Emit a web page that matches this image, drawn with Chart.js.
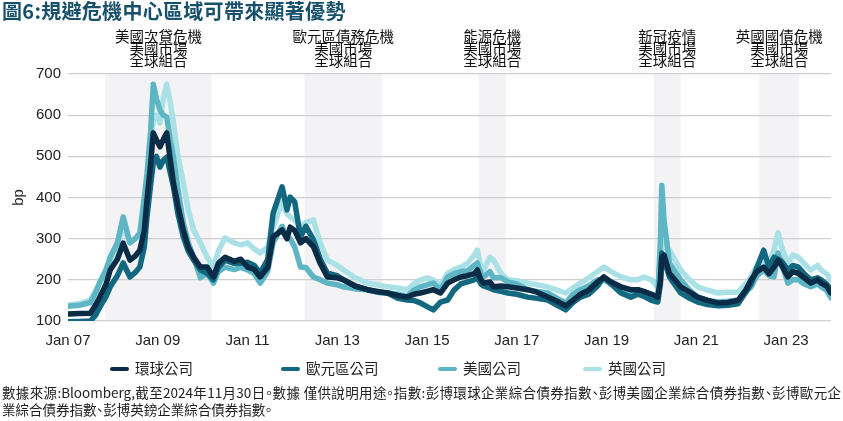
<!DOCTYPE html>
<html lang="zh-Hant">
<head>
<meta charset="utf-8">
<title>圖6:規避危機中心區域可帶來顯著優勢</title>
<script src="https://cdn.jsdelivr.net/npm/chart.js@4.4.1/dist/chart.umd.min.js"></script>
<style>
  html, body { margin: 0; padding: 0; background: #fff; }
  body { width: 843px; height: 421px; position: relative; overflow: hidden;
         font-family: 'Noto Sans CJK TC', sans-serif; color: #222; }
  #title { position: absolute; left: 2px; top: -2px; font-size: 20px; font-weight: 700;
           color: #17506b; letter-spacing: 0.3px; line-height: 26px; white-space: nowrap; }
  #wrap { position: absolute; left: 0; top: 0; width: 843px; height: 421px; }
  #legend { position: absolute; top: 358px; left: 0; width: 843px; height: 20px; }
  .item { position: absolute; top: 0; font-size: 14.5px; line-height: 20px; white-space: nowrap; }
  .item .sw { display: inline-block; width: 19px; height: 4px; border-radius: 2px;
              vertical-align: middle; margin-right: 6px; position: relative; top: -1px; }
  #note { position: absolute; left: 2px; top: 384px; width: 839px; font-size: 13.5px; line-height: 17px;
          font-feature-settings: "halt"; }
  #note .l1 { text-align: justify; text-align-last: justify; }
</style>
</head>
<body>
<div id="wrap"><canvas id="chart" width="843" height="421"></canvas></div>
<div id="title">圖6:規避危機中心區域可帶來顯著優勢</div>
<div id="legend"></div>
<div id="note">
  <div class="l1">數據來源:Bloomberg,截至2024年11月30日。數據 僅供說明用途。指數:彭博環球企業綜合債券指數、彭博美國企業綜合債券指數、彭博歐元企</div>
  <div>業綜合債券指數、彭博英鎊企業綜合債券指數。</div>
</div>
<script>
// spreads in bp (x = fractional year)
const dates = [
  2007.00, 2007.25, 2007.50, 2007.62, 2007.71, 2007.85, 2007.94, 2008.10, 2008.23, 2008.38,
  2008.50, 2008.60, 2008.70, 2008.76, 2008.84, 2008.90, 2008.97, 2009.05, 2009.12, 2009.20,
  2009.28, 2009.35, 2009.45, 2009.57, 2009.68, 2009.80, 2009.95, 2010.10, 2010.24, 2010.35,
  2010.50, 2010.70, 2010.85, 2011.00, 2011.15, 2011.28, 2011.45, 2011.57, 2011.77, 2011.88,
  2011.95, 2012.05, 2012.18, 2012.30, 2012.47, 2012.62, 2012.78, 2013.00, 2013.14, 2013.40,
  2013.67, 2013.90, 2014.12, 2014.35, 2014.56, 2014.70, 2014.85, 2015.00, 2015.14, 2015.30,
  2015.46, 2015.60, 2015.75, 2015.90, 2016.05, 2016.12, 2016.20, 2016.26, 2016.40, 2016.48,
  2016.65, 2016.80, 2017.00, 2017.24, 2017.45, 2017.69, 2017.90, 2018.09, 2018.25, 2018.42,
  2018.60, 2018.80, 2018.94, 2019.10, 2019.32, 2019.54, 2019.70, 2019.83, 2020.00, 2020.14,
  2020.20, 2020.23, 2020.28, 2020.40, 2020.65, 2020.85, 2021.03, 2021.25, 2021.48, 2021.70,
  2021.93, 2022.10, 2022.22, 2022.35, 2022.50, 2022.62, 2022.73, 2022.82, 2022.90, 2023.04,
  2023.15, 2023.27, 2023.40, 2023.55, 2023.70, 2023.78, 2023.90, 2024.00
];
const globalCorp = [
  117, 118, 119, 140, 158, 190, 224, 250, 289, 248,
  258, 272, 320, 394, 480, 557, 540, 523, 540, 557,
  490, 435, 380, 321, 280, 255, 231, 231, 207, 240,
  255, 245, 250, 231, 225, 207, 230, 304, 321, 300,
  328, 320, 290, 300, 280, 240, 207, 205, 200, 185,
  176, 172, 168, 162, 158, 165, 168, 172, 176, 168,
  192, 200, 207, 210, 215, 224, 200, 192, 195, 183,
  185, 183, 180, 176, 170, 158, 148, 137, 150, 165,
  175, 195, 207, 195, 183, 176, 176, 172, 165, 158,
  200, 255, 260, 216, 183, 170, 158, 150, 144, 145,
  150, 175, 200, 220, 231, 215, 231, 248, 235, 207,
  220, 216, 205, 192, 200, 192, 185, 168
];
const euroCorp = [
  98, 99, 100, 115, 134, 160, 183, 210, 241, 207,
  218, 231, 280, 353, 430, 484, 500, 474, 490, 498,
  460, 426, 360, 304, 270, 248, 224, 216, 200, 230,
  248, 240, 240, 243, 235, 216, 250, 362, 426, 370,
  401, 390, 304, 330, 297, 250, 216, 210, 200, 185,
  176, 170, 168, 155, 151, 150, 144, 135, 127, 146,
  151, 175, 190, 195, 200, 207, 190, 185, 180, 176,
  172, 168, 165, 158, 155, 151, 138, 127, 145, 158,
  165, 185, 207, 190, 168, 158, 165, 160, 150, 146,
  190, 265, 248, 207, 168, 155, 146, 140, 137, 138,
  142, 170, 190, 230, 272, 230, 255, 250, 245, 224,
  235, 231, 215, 200, 205, 200, 190, 176
];
const usCorp = [
  136, 138, 145, 170, 195, 225, 255, 290, 353, 290,
  300, 314, 400, 459, 560, 675, 640, 612, 600, 595,
  540, 498, 420, 338, 290, 255, 205, 216, 192, 220,
  231, 225, 230, 224, 215, 192, 220, 290, 330, 300,
  300, 280, 231, 230, 207, 200, 192, 188, 183, 178,
  176, 170, 168, 165, 160, 175, 183, 188, 192, 176,
  207, 215, 220, 222, 235, 241, 215, 207, 220, 205,
  205, 195, 190, 176, 172, 168, 155, 144, 165, 176,
  185, 200, 200, 190, 180, 168, 176, 170, 160, 155,
  300, 430, 345, 241, 200, 175, 158, 150, 146, 148,
  151, 170, 183, 210, 224, 210, 207, 265, 240, 192,
  200, 200, 190, 183, 190, 183, 175, 156
];
const ukCorp = [
  139, 142, 151, 175, 192, 225, 248, 280, 328, 290,
  300, 310, 360, 418, 520, 595, 600, 581, 640, 675,
  630, 581, 500, 435, 370, 321, 290, 255, 231, 270,
  302, 290, 285, 290, 275, 265, 280, 328, 387, 360,
  353, 345, 328, 340, 345, 290, 248, 235, 224, 205,
  192, 188, 183, 180, 176, 190, 200, 205, 200, 187,
  216, 225, 231, 240, 260, 272, 230, 224, 255, 248,
  215, 200, 198, 192, 188, 183, 175, 168, 180, 192,
  205, 220, 231, 220, 207, 200, 200, 207, 200, 183,
  250, 328, 280, 272, 224, 200, 183, 175, 168, 170,
  170, 190, 207, 235, 248, 240, 272, 314, 280, 241,
  260, 255, 240, 224, 235, 224, 215, 200
];
const seriesNames = ['環球公司', '歐元區公司', '美國公司', '英國公司'];
const seriesColors = ['#0b2c47', '#11687f', '#5eb6c5', '#a9e1e6'];
const tickYears = [2007, 2009, 2011, 2013, 2015, 2017, 2019, 2021, 2023];
const crisisStart = [2007.83, 2012.27, 2016.15, 2020.05, 2022.40];
const crisisEnd = [2010.20, 2014.00, 2016.75, 2020.65, 2023.29];
const crisisNames = ['美國次貸危機', '歐元區債務危機', '能源危機', '新冠疫情', '英國國債危機'];
const crisisSub = ['美國市場', '全球組合'];

(function () {
  'use strict';

  const FONT = "'Noto Sans CJK TC', sans-serif";
  const AXIS_FONT = "'Liberation Sans', Arial, sans-serif";
  const legendLeft = [110, 281, 438, 583];

  function $(id) { return document.getElementById(id); }

  function toPoints(values) {
    return dates.map((d, i) => ({ x: d, y: values[i] }));
  }

  // grey crisis windows behind grid + three-line captions above the plot
  const crisisBands = {
    id: 'crisisBands',
    beforeDraw(chart) {
      const { ctx, chartArea, scales } = chart;
      const x = scales.x;
      ctx.save();
      ctx.fillStyle = '#f3f3f5';
      crisisStart.forEach((s, i) => {
        const x0 = x.getPixelForValue(s);
        const x1 = x.getPixelForValue(crisisEnd[i]);
        ctx.fillRect(x0, chartArea.top, x1 - x0, chartArea.bottom - chartArea.top);
      });
      ctx.restore();
    },
    afterDraw(chart) {
      const { ctx, chartArea, scales } = chart;
      const x = scales.x;
      ctx.save();
      ctx.fillStyle = '#111';
      ctx.font = '14.5px ' + FONT;
      ctx.textAlign = 'center';
      ctx.textBaseline = 'middle';
      crisisNames.forEach((name, i) => {
        const cx = (x.getPixelForValue(crisisStart[i]) + x.getPixelForValue(crisisEnd[i])) / 2;
        const lines = [name].concat(crisisSub);
        lines.forEach((t, j) => ctx.fillText(t, cx, chartArea.top - 38 + j * 12));
      });
      ctx.restore();
    },
  };

  const all = [globalCorp, euroCorp, usCorp, ukCorp];

  new Chart($('chart'), {
    type: 'line',
    data: {
      datasets: all.map((vals, i) => ({
        label: seriesNames[i],
        data: toPoints(vals),
        borderColor: seriesColors[i],
        backgroundColor: seriesColors[i],
        borderWidth: 5.5,
        pointRadius: 0,
        tension: 0,
        borderJoinStyle: 'round',
        borderCapStyle: 'round',
        fill: false,
      })),
    },
    options: {
      responsive: false,
      animation: false,
      events: [],
      layout: { padding: { left: 0, top: 74, right: 12, bottom: 68 } },
      plugins: { legend: { display: false }, tooltip: { enabled: false } },
      scales: {
        x: {
          type: 'linear',
          min: 2007,
          max: 2024,
          afterBuildTicks: (s) => { s.ticks = tickYears.map(v => ({ value: v })); },
          afterFit: (s) => { s.height = 32; },
          ticks: {
            autoSkip: false,
            maxRotation: 0,
            padding: 11,
            color: '#222',
            font: { family: AXIS_FONT, size: 15 },
            callback: (v) => 'Jan ' + String(v).slice(2),
          },
          grid: { display: false, drawTicks: false },
          border: { display: false },
        },
        y: {
          min: 100,
          max: 700,
          afterFit: (s) => { s.width = 68; },
          ticks: {
            stepSize: 100,
            padding: 7,
            color: '#222',
            font: { family: AXIS_FONT, size: 15 },
          },
          grid: { color: '#cfcfcf', lineWidth: 1.2, drawTicks: false },
          border: { display: false },
          title: {
            display: true,
            text: 'bp',
            color: '#222',
            font: { family: AXIS_FONT, size: 15 },
            padding: { top: 10, bottom: 0 },
          },
        },
      },
    },
    plugins: [crisisBands],
  });

  $('legend').innerHTML = seriesNames.map((n, i) =>
    `<div class="item" style="left:${legendLeft[i]}px"><span class="sw" style="background:${seriesColors[i]}"></span>${n}</div>`
  ).join('');
})();
</script>
</body>
</html>
